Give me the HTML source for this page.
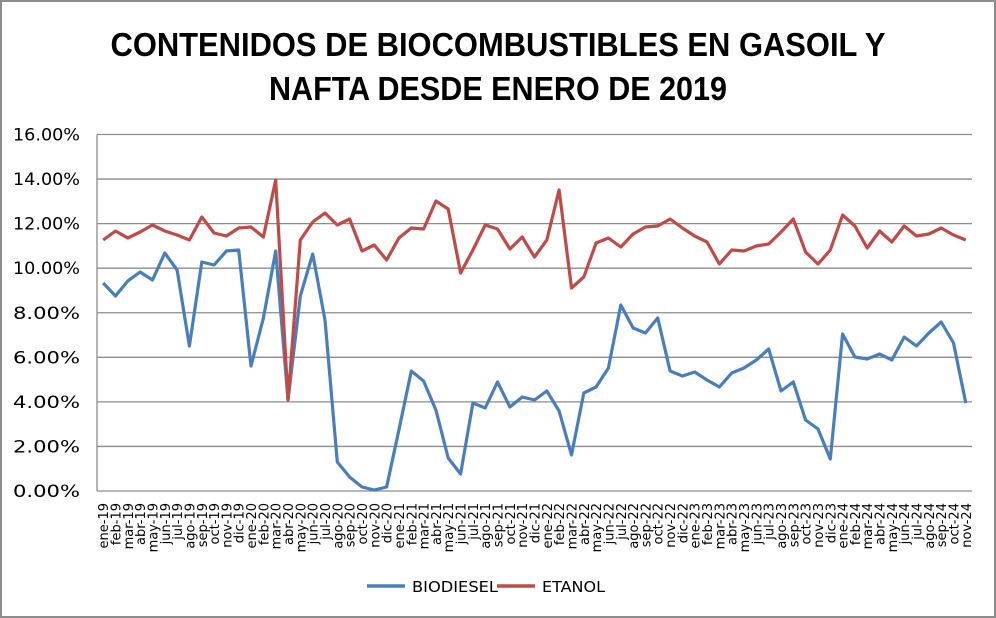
<!DOCTYPE html>
<html><head><meta charset="utf-8"><style>
html,body{margin:0;padding:0;background:#fff}
svg{display:block}
</style></head><body>
<svg id="s" width="996" height="618" xmlns="http://www.w3.org/2000/svg" font-family="Liberation Sans, DejaVu Sans, sans-serif">
<rect x="1" y="1" width="994" height="616" fill="#fff" stroke="#8c8c8c" stroke-width="2"/>
<text x="498" y="56" text-anchor="middle" font-weight="bold" font-size="33" textLength="775" lengthAdjust="spacingAndGlyphs">CONTENIDOS DE BIOCOMBUSTIBLES EN GASOIL Y</text>
<text x="498" y="100" text-anchor="middle" font-weight="bold" font-size="33" textLength="458" lengthAdjust="spacingAndGlyphs">NAFTA DESDE ENERO DE 2019</text>
<g id="grid" stroke="#8c8c8c" stroke-width="1.3"></g>
<g id="ylab" font-size="17" font-family="DejaVu Sans, sans-serif" text-anchor="end" fill="#000"></g>
<g id="xlab" font-size="13" font-family="DejaVu Sans, sans-serif" fill="#000"></g>
<g id="series"></g>
<line x1="367" y1="586" x2="405" y2="586" stroke="#4a7ebb" stroke-width="3.5"/>
<text x="412" y="592" font-size="15" font-family="DejaVu Sans, sans-serif" textLength="86" lengthAdjust="spacingAndGlyphs">BIODIESEL</text>
<line x1="497" y1="586" x2="535" y2="586" stroke="#be4b48" stroke-width="3.5"/>
<text x="542" y="592" font-size="15" font-family="DejaVu Sans, sans-serif" textLength="63" lengthAdjust="spacingAndGlyphs">ETANOL</text>
</svg>
<script>
var NS="http://www.w3.org/2000/svg";
function el(t,a,p,txt){var e=document.createElementNS(NS,t);for(var k in a)e.setAttribute(k,a[k]);if(txt)e.textContent=txt;document.getElementById(p).appendChild(e);return e;}
var L=97,R=972,T=134.5,B=491;
for(var i=0;i<=8;i++){var y=T+(B-T)*i/8;
 el("line",{x1:L,y1:y,x2:R,y2:y},"grid");
 el("text",{x:80,y:y+6,textLength:67,lengthAdjust:"spacingAndGlyphs"},"ylab",((8-i)*2).toFixed(2)+"%");}
el("line",{x1:L,y1:T,x2:L,y2:B},"grid");
var m=["ene","feb","mar","abr","may","jun","jul","ago","sep","oct","nov","dic"];
var step=(R-L)/71;
function X(i){return L+step*(i+0.5);}
for(var i=0;i<71;i++){var lab=m[i%12]+"-"+(19+Math.floor(i/12));var x=X(i)+5;
 el("text",{x:x,y:503,transform:"rotate(-90 "+x+" 503)","text-anchor":"end"},"xlab",lab);}
var bio=[283,296,281,272,280,253,270,346,262,265,251,250,366,318,251,400,296,254,320,462,477,487,490,487,430,371,381,410,458,474,403,408,382,407,397,400,391,411,455,393,387,368,305,328,333,318,371,376,372,380,387,373,368,360,349,391,382,420,429,459,334,357,359,354,360,337,346,333,322,343,403];
var eta=[240,231,238,232,225,231,235,240,217,233,236,228,227,237,180,400,240,222,213,225,219,251,245,260,238,228,229,201,209,273,250,225,229,249,237,257,240,190,288,277,243,238,247,234,227,226,219,228,236,242,264,250,251,246,244,232,219,252,264,250,215,226,248,231,242,226,236,234,228,235,240];
function pts(a){return a.map(function(y,i){return X(i).toFixed(1)+","+y;}).join(" ");}
el("polyline",{points:pts(bio),fill:"none",stroke:"#4a7ebb","stroke-width":3.2,"stroke-linejoin":"round"},"series");
el("polyline",{points:pts(eta),fill:"none",stroke:"#be4b48","stroke-width":3.2,"stroke-linejoin":"round"},"series");
</script>
</body></html>
